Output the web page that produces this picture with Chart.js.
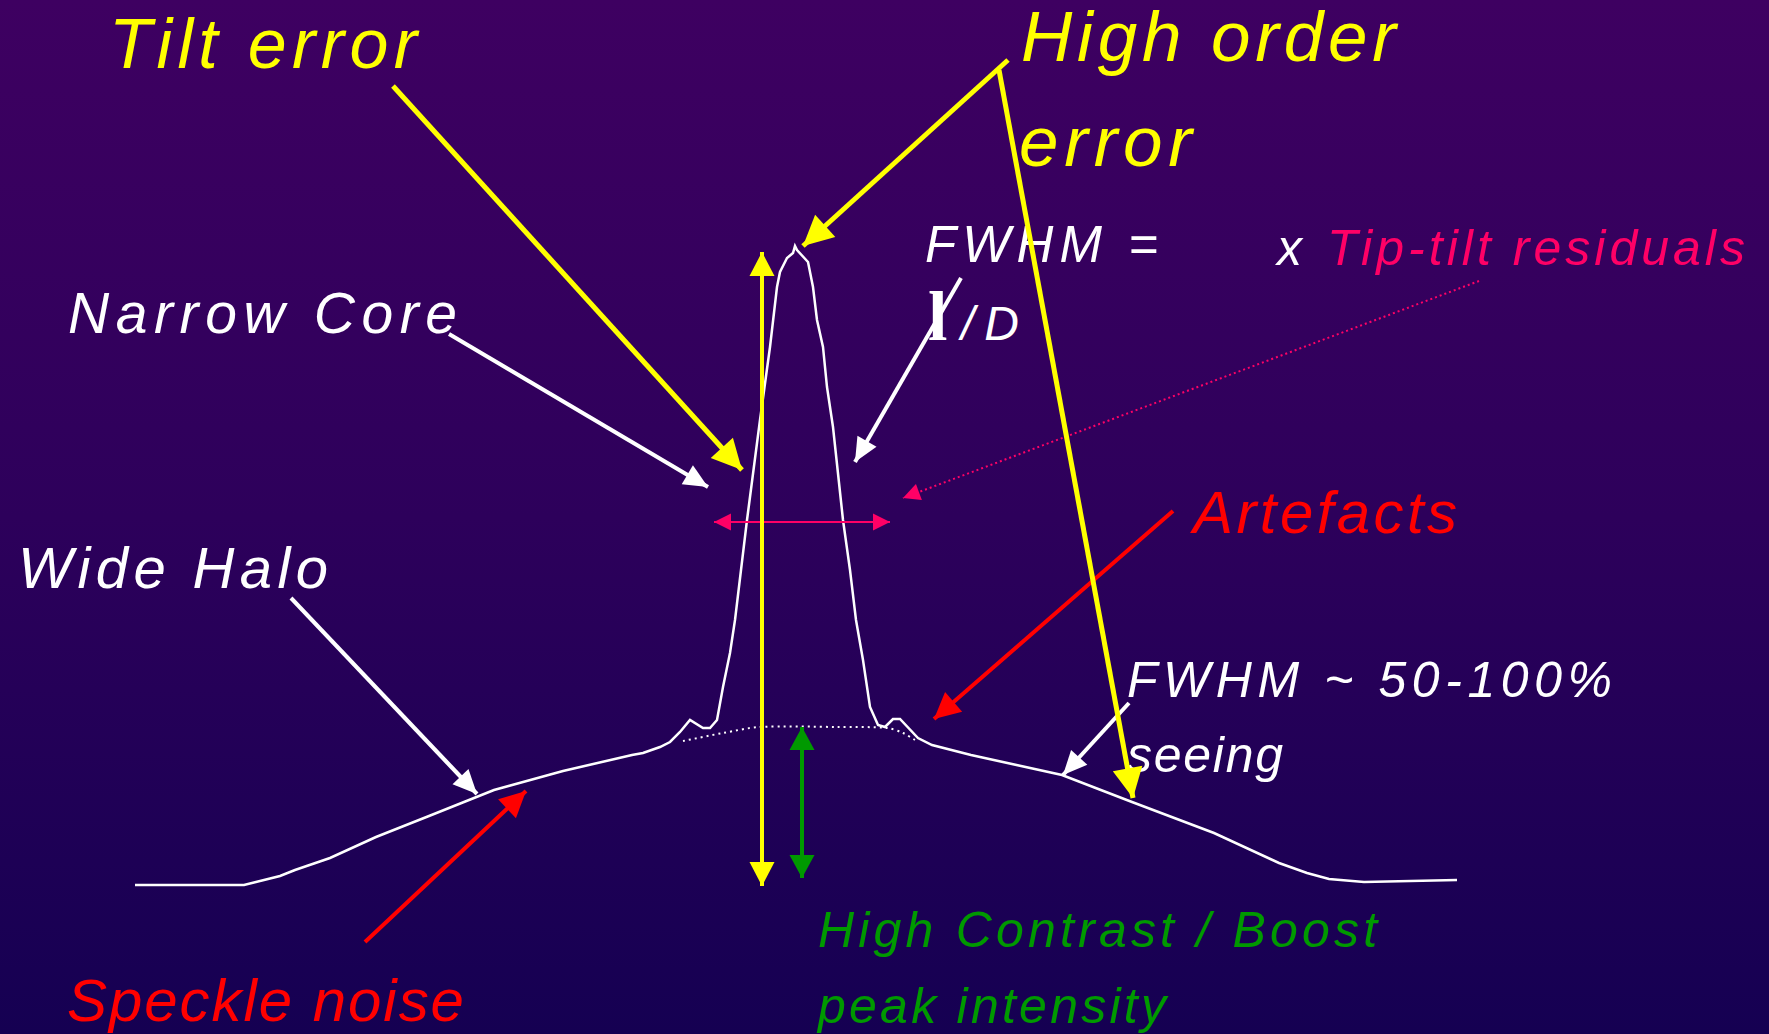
<!DOCTYPE html>
<html><head><meta charset="utf-8">
<script src="https://cdn.jsdelivr.net/npm/chart.js@4.4.1/dist/chart.umd.min.js"></script>
<style>
html,body{margin:0;padding:0;width:1769px;height:1034px;overflow:hidden;}
body{background:linear-gradient(to bottom,#3e0061 0%,#2d005b 50%,#150052 100%);position:relative;font-family:"Liberation Sans",Arial,sans-serif;}
#labels{position:absolute;left:0;top:0;width:1769px;height:1034px;z-index:0;}
#wrap{position:absolute;left:0;top:0;width:1769px;height:1034px;z-index:1;}
.lbl{position:absolute;white-space:nowrap;line-height:1;}
</style></head><body>
<div id="labels"></div>
<div id="wrap"><canvas id="c"></canvas></div>
<script>
// ---- Data: PSF profile (offset from centre, relative intensity) ----
const psfX = [-6.60,-5.51,-5.15,-5.00,-4.65,-4.19,-3.66,-3.31,-3.01,-2.32,-1.63,-1.52,-1.35,-1.25,-1.15,-1.05,-0.92,-0.85,-0.78,-0.72,-0.65,-0.60,-0.54,-0.48,-0.35,-0.25,-0.18,-0.15,-0.08,-0.02,0.00,0.02,0.13,0.18,0.22,0.28,0.32,0.38,0.48,0.55,0.61,0.68,0.75,0.83,0.90,0.98,1.05,1.23,1.37,1.76,2.67,3.37,4.19,4.84,5.12,5.34,5.69,6.62];
const psfY = [0.00,0.00,0.09,0.15,0.27,0.48,0.69,0.83,0.95,1.14,1.30,1.32,1.38,1.43,1.53,1.65,1.57,1.57,1.65,1.98,2.32,2.65,3.15,3.65,4.65,5.38,5.98,6.13,6.27,6.32,6.39,6.35,6.23,5.98,5.65,5.38,4.98,4.58,3.65,3.15,2.65,2.25,1.78,1.60,1.58,1.66,1.66,1.47,1.40,1.30,1.10,0.83,0.52,0.22,0.12,0.06,0.03,0.05];
// dotted underlying seeing halo
const haloX = [-1.12,-0.72,-0.35,0.42,0.92,1.08,1.20];
const haloY = [1.44,1.52,1.58,1.58,1.57,1.52,1.45];

// ---- Annotation arrows: [start, tip] in the same units ----
const tiltArrow       = [[-4.02,7.99],[-0.53,4.15]];
const highOrderArrowA = [[2.13,8.25],[0.08,6.39]];
const highOrderArrowB = [[2.04,8.15],[3.38,0.87]];
const peakArrow       = [[-0.33,-0.01],[-0.33,6.33]];
const contrastArrow   = [[0.07,0.07],[0.07,1.58]];
const coreArrow       = [[-3.46,5.51],[-0.87,3.98]];
const lambdaArrow     = [[1.66,6.07],[0.60,4.23]];
const tipTiltArrow    = [[6.84,6.04],[1.08,3.87]];
const fwhmArrow       = [[-0.81,3.63],[0.95,3.63]];
const artefactArrow   = [[3.78,3.74],[1.39,1.66]];
const haloArrow       = [[-5.04,2.87],[-3.18,0.91]];
const speckleArrow    = [[-4.30,-0.57],[-2.69,0.94]];
const seeingArrow     = [[3.34,1.82],[2.68,1.10]];

// ---- Text labels ----
const labels = [
  {t:"Tilt error", x:109, b:68, s:70, w:308, c:"#ffff00"},
  {t:"High order", x:1021, b:61, s:71, w:375, c:"#ffff00"},
  {t:"error", x:1019, b:166, s:71, w:173, c:"#ffff00"},
  {t:"FWHM =", x:925, b:262, s:51, w:233, c:"#ffffff"},
  {t:"x", x:1277, b:265, s:50, w:0, c:"#ffffff"},
  {t:"Tip-tilt residuals", x:1327, b:265, s:50, w:418, c:"#ff0066"},
  {t:"Narrow Core", x:68, b:333, s:57, w:389, c:"#ffffff"},
  {t:"l", x:928, b:340, s:70, w:0, c:"#ffffff", f:"'Liberation Serif',serif", wt:"bold", st:"normal"},
  {t:"/D", x:961, b:340, s:48, w:58, c:"#ffffff"},
  {t:"Artefacts", x:1193, b:533, s:60, w:264, c:"#ff0000"},
  {t:"Wide Halo", x:18, b:588, s:58, w:310, c:"#ffffff"},
  {t:"FWHM ~ 50-100%", x:1127, b:697, s:50, w:485, c:"#ffffff"},
  {t:"seeing", x:1127, b:772, s:50, w:156, c:"#ffffff"},
  {t:"Speckle noise", x:67, b:1021, s:60, w:397, c:"#ff0000"},
  {t:"High Contrast / Boost", x:818, b:947, s:50, w:559, c:"#009900"},
  {t:"peak intensity", x:818, b:1023, s:50, w:348, c:"#009900"}
];

const toPts = (xs, ys) => xs.map((x, i) => ({x, y: ys[i]}));
const arrPts = a => a.map(p => ({x: p[0], y: p[1]}));

function arrowDs(a, color, width, len, wid, both, dash) {
  return {data: arrPts(a), showLine: true, borderColor: color, backgroundColor: color,
    borderWidth: width, pointRadius: 0, borderDash: dash || [], order: 1,
    head: {len, wid, both: !!both}};
}

const arrowHeads = {
  id: 'arrowHeads',
  afterDatasetsDraw(chart) {
    const ctx = chart.ctx;
    chart.data.datasets.forEach((ds, i) => {
      if (!ds.head) return;
      const pts = chart.getDatasetMeta(i).data;
      const draw = (tip, from) => {
        const ang = Math.atan2(tip.y - from.y, tip.x - from.x);
        ctx.save();
        ctx.translate(tip.x, tip.y);
        ctx.rotate(ang);
        ctx.beginPath();
        ctx.moveTo(0, 0);
        ctx.lineTo(-ds.head.len, ds.head.wid / 2);
        ctx.lineTo(-ds.head.len, -ds.head.wid / 2);
        ctx.closePath();
        ctx.fillStyle = ds.borderColor;
        ctx.fill();
        ctx.restore();
      };
      const n = pts.length;
      draw(pts[n - 1], pts[n - 2]);
      if (ds.head.both) draw(pts[0], pts[1]);
    });
  }
};

const YEL = '#ffff00', WHT = '#ffffff', RED = '#ff0000', PNK = '#ff0066', GRN = '#009900';

new Chart(document.getElementById('c'), {
  type: 'scatter',
  data: {datasets: [
    {data: toPts(psfX, psfY), showLine: true, borderColor: WHT, borderWidth: 2.5, pointRadius: 0, tension: 0, order: 10},
    {data: toPts(haloX, haloY), showLine: true, borderColor: WHT, borderWidth: 2, borderDash: [2, 4], pointRadius: 0, tension: 0.3, order: 9},
    arrowDs(tiltArrow, YEL, 5, 30, 30),
    arrowDs(highOrderArrowA, YEL, 5, 30, 30),
    arrowDs(highOrderArrowB, YEL, 5, 30, 30),
    arrowDs(peakArrow, YEL, 4, 24, 25, true),
    arrowDs(contrastArrow, GRN, 4, 23, 25, true),
    arrowDs(coreArrow, WHT, 4, 24, 22),
    arrowDs(lambdaArrow, WHT, 4, 24, 22),
    arrowDs(tipTiltArrow, PNK, 2, 17, 17, false, [2, 3]),
    arrowDs(fwhmArrow, PNK, 2, 17, 17, true),
    arrowDs(artefactArrow, RED, 4, 26, 26),
    arrowDs(haloArrow, WHT, 4, 24, 22),
    arrowDs(speckleArrow, RED, 4, 26, 26),
    arrowDs(seeingArrow, WHT, 4, 24, 22)
  ]},
  options: {
    responsive: true, maintainAspectRatio: false, animation: false,
    layout: {padding: 0},
    plugins: {legend: {display: false}, tooltip: {enabled: false}},
    scales: {
      x: {type: 'linear', min: -7.95, max: 9.74, display: false},
      y: {type: 'linear', min: -1.49, max: 8.85, display: false}
    },
    elements: {line: {borderCapStyle: 'butt'}}
  },
  plugins: [arrowHeads]
});

// place labels
const mc = document.createElement('canvas').getContext('2d');
const host = document.getElementById('labels');
labels.forEach(L => {
  const fam = L.f || "'Liberation Sans',Arial,sans-serif";
  const st = L.st || 'italic', wt = L.wt || 'normal';
  const font = `${st} ${wt} ${L.s}px ${fam}`;
  mc.font = font;
  const m = mc.measureText(L.t);
  const asc = m.fontBoundingBoxAscent, desc = m.fontBoundingBoxDescent;
  const off = (L.s - (asc + desc)) / 2 + asc;
  const d = document.createElement('div');
  d.className = 'lbl';
  d.textContent = L.t;
  d.style.font = font;
  d.style.lineHeight = '1';
  d.style.color = L.c;
  d.style.left = L.x + 'px';
  d.style.top = (L.b - off) + 'px';
  if (L.w && L.t.length > 1) {
    const ls = (L.w - m.width) / (L.t.length - 1);
    d.style.letterSpacing = ls.toFixed(2) + 'px';
  }
  host.appendChild(d);
});
</script>
</body></html>
